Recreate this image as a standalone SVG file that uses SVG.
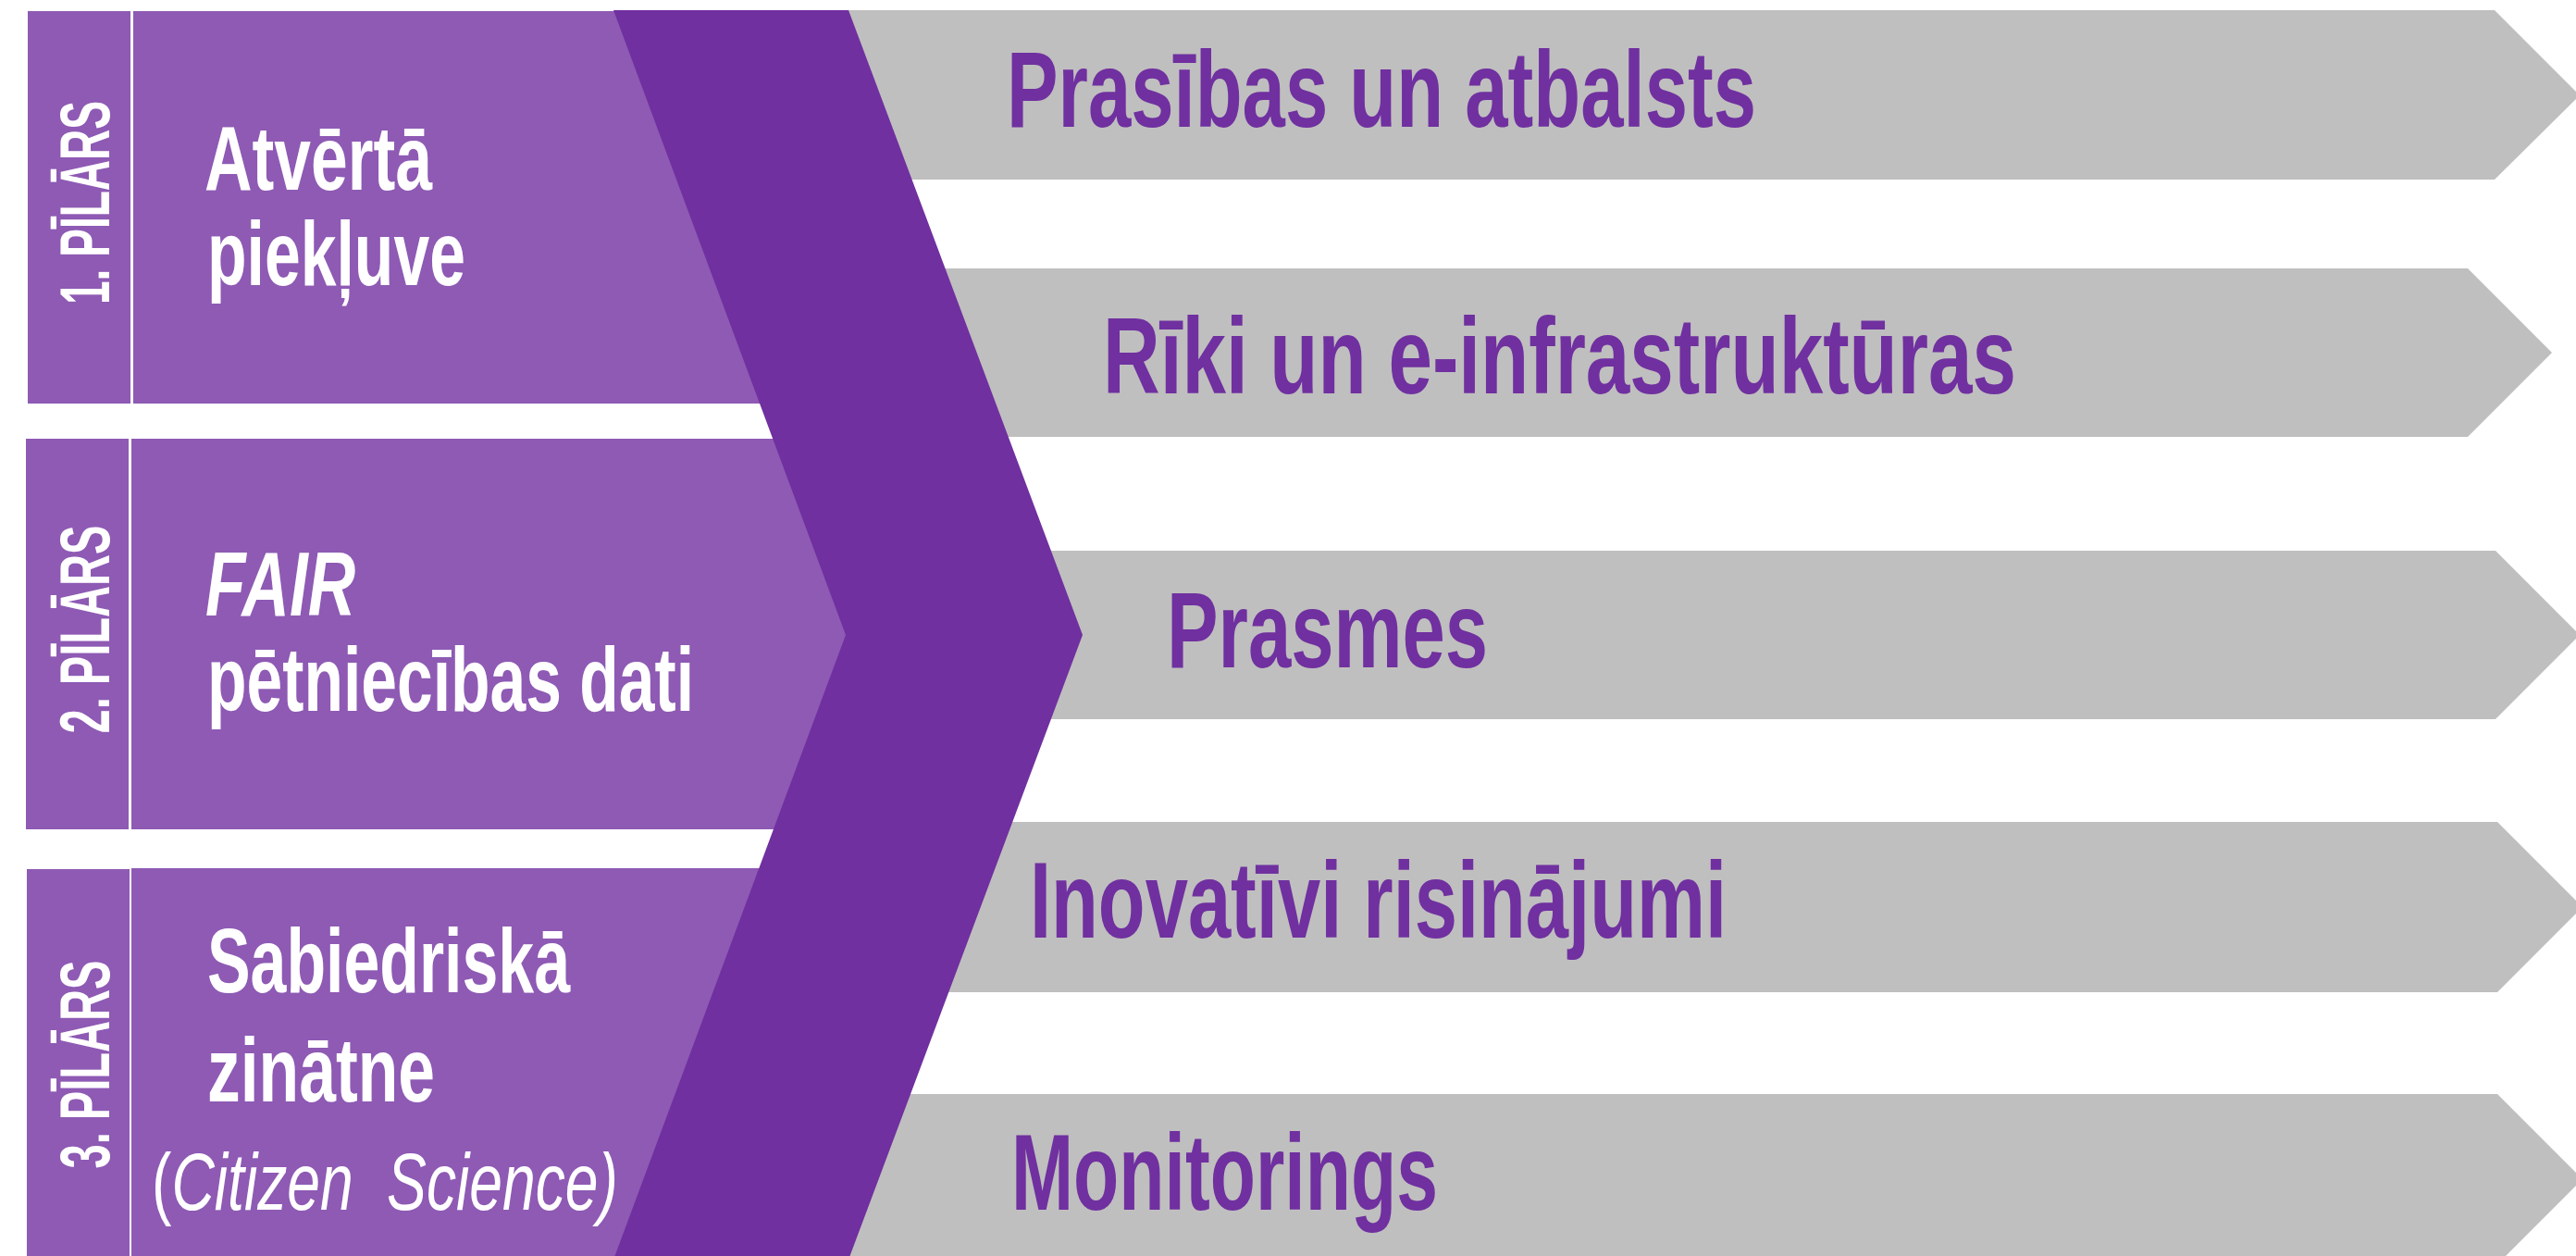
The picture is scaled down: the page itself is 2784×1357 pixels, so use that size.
<svg xmlns="http://www.w3.org/2000/svg" width="2784" height="1357" viewBox="0 0 2784 1357">
<style>
.pill{fill:#8E5AB4}
.bar{fill:#BFBFBF}
.chev{fill:#7030A0}
.lbl{font-family:"Liberation Sans",Arial,sans-serif;font-weight:700;fill:#FFFFFF;font-size:76px}
.wt{font-family:"Liberation Sans",Arial,sans-serif;font-weight:700;fill:#FFFFFF;font-size:98px}
.pt{font-family:"Liberation Sans",Arial,sans-serif;font-weight:700;fill:#7030A0;font-size:116px}
.it{font-style:italic}
.cs{font-family:"Liberation Sans",Arial,sans-serif;font-weight:400;fill:#FFFFFF;font-size:88px}
</style>
<rect width="2784" height="1357" fill="#FFFFFF"/>

<g id="item1">
<polygon class="bar" points="916,11 2696,11 2788,103 2696,194 916,194"/>
<text class="pt" x="1088" y="137" textLength="810" lengthAdjust="spacingAndGlyphs">Prasības un atbalsts</text>
</g>

<g id="item2">
<polygon class="bar" points="916,290 2667,290 2758,381 2667,472 916,472"/>
<text class="pt" x="1192" y="425" textLength="987" lengthAdjust="spacingAndGlyphs">Rīki un e-infrastruktūras</text>
</g>

<g id="item3">
<polygon class="bar" points="916,595 2697,595 2788,686 2697,777 916,777"/>
<text class="pt" x="1261" y="721" textLength="347" lengthAdjust="spacingAndGlyphs">Prasmes</text>
</g>

<g id="item4">
<polygon class="bar" points="916,888 2699,888 2791,980 2699,1072 916,1072"/>
<text class="pt" x="1113" y="1013" textLength="753" lengthAdjust="spacingAndGlyphs">Inovatīvi risinājumi</text>
</g>

<g id="item5">
<polygon class="bar" points="916,1182 2699,1182 2791,1274 2699,1366 916,1366"/>
<text class="pt" x="1093" y="1307" textLength="461" lengthAdjust="spacingAndGlyphs">Monitorings</text>
</g>

<g id="pillar1">
<rect class="pill" x="30" y="12" width="111" height="424"/>
<rect class="pill" x="144" y="12" width="771" height="424"/>
<text class="lbl" transform="translate(118,219) rotate(-90)" text-anchor="middle" textLength="220" lengthAdjust="spacingAndGlyphs">1. PĪLĀRS</text>
<text class="wt" x="221" y="205" textLength="246" lengthAdjust="spacingAndGlyphs">Atvērtā</text>
<text class="wt" x="224" y="308" textLength="279" lengthAdjust="spacingAndGlyphs">piekļuve</text>
</g>

<g id="pillar2">
<rect class="pill" x="28" y="474" width="111" height="422"/>
<rect class="pill" x="142" y="474" width="773" height="422"/>
<text class="lbl" transform="translate(118,680) rotate(-90)" text-anchor="middle" textLength="225" lengthAdjust="spacingAndGlyphs">2. PĪLĀRS</text>
<text class="wt it" x="222" y="665" textLength="162" lengthAdjust="spacingAndGlyphs">FAIR</text>
<text class="wt" x="224" y="768" textLength="526" lengthAdjust="spacingAndGlyphs">pētniecības dati</text>
</g>

<g id="pillar3">
<rect class="pill" x="29" y="939" width="111" height="430"/>
<rect class="pill" x="142" y="938" width="773" height="430"/>
<text class="lbl" transform="translate(118,1150) rotate(-90)" text-anchor="middle" textLength="225" lengthAdjust="spacingAndGlyphs">3. PĪLĀRS</text>
<text class="wt" x="224" y="1072" textLength="392" lengthAdjust="spacingAndGlyphs">Sabiedriskā</text>
<text class="wt" x="224" y="1190" textLength="246" lengthAdjust="spacingAndGlyphs">zinātne</text>
<text class="cs" transform="translate(164,1307) scale(0.73,1)" x="0" y="0">(<tspan class="it">Citizen</tspan><tspan class="it" x="348">Science)</tspan></text>
</g>

<g id="chevron">
<polygon class="chev" points="663,11 917,11 1170,686 917,1361 663,1361 914,686"/>
</g>
</svg>
